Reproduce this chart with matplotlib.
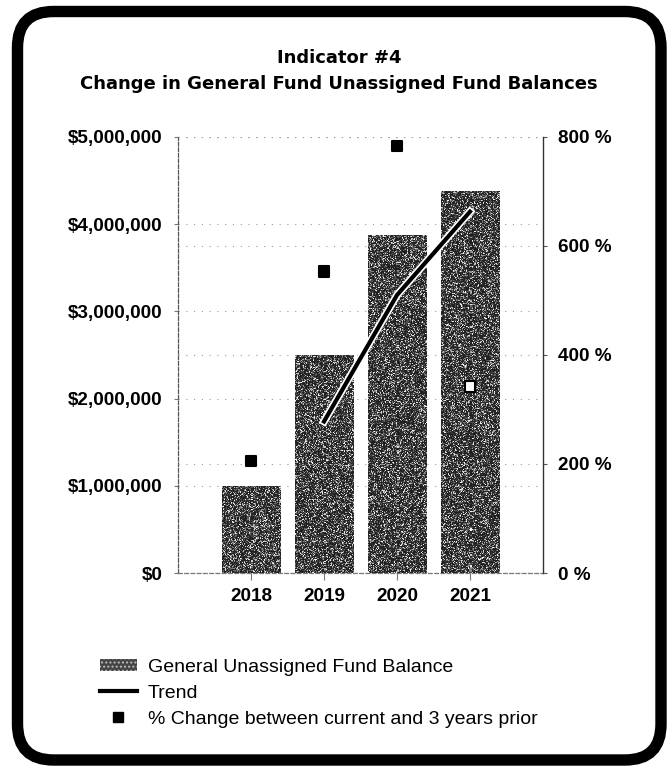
import numpy as np
import matplotlib
matplotlib.use("Agg")
import matplotlib.pyplot as plt
from matplotlib.patches import FancyBboxPatch, Patch
from matplotlib.lines import Line2D
from matplotlib.ticker import FuncFormatter, MultipleLocator
from matplotlib.font_manager import FontProperties
import matplotlib.patheffects as pe

years = ["2018", "2019", "2020", "2021"]
fund_balance = [1000000, 2500000, 3876000, 4384000]
trend_pct = [np.nan, 278, 510, 663]
pct_change = [206, 553, 783, 342]

W, H, DPI = 669, 772, 100
fig = plt.figure(figsize=(W / DPI, H / DPI), dpi=DPI)
fig.patch.set_facecolor("white")

# rounded frame
frame = FancyBboxPatch((0.175, 0.12), 6.61 - 0.175, 7.605 - 0.12,
                       boxstyle="round,pad=0,rounding_size=0.36",
                       transform=fig.dpi_scale_trans, facecolor="none",
                       edgecolor="black", linewidth=8.2, zorder=10)
fig.patches.append(frame)

L, R, T, B = 178, 543, 137, 573
ax = fig.add_axes([L / W, 1 - B / H, (R - L) / W, (B - T) / H])
ax2 = ax.twinx()

x = np.arange(len(years))
bars = ax.bar(x, fund_balance, width=0.8, color="#3c3c3c", zorder=2)

# noisy scanned-like texture for the bars
rng = np.random.default_rng(3)
noise = 0.12 + 0.88 * rng.random((B - T, R - L)) ** 3.5
ax.set_xlim(-1, 4)
ax.set_ylim(0, 5000000)
for b in bars:
    im = ax.imshow(noise, cmap="gray", vmin=0, vmax=1, interpolation="nearest",
                   extent=(-1, 4, 0, 5000000), aspect="auto", zorder=3)
    im.set_clip_path(b)
ax.set_xlim(-1, 4)
ax.set_ylim(0, 5000000)

ax2.set_ylim(0, 800)
ax2.plot(x, trend_pct, color="black", lw=3, zorder=5,
         path_effects=[pe.Stroke(linewidth=5.5, foreground="white"), pe.Normal()])
ax2.scatter(x, pct_change, marker="s", s=55,
            facecolors=["black", "black", "black", "white"],
            edgecolors="black", linewidths=1.5, zorder=6)

tick_fp = FontProperties(family="Liberation Sans", weight="bold", size=13.6)
xtick_fp = FontProperties(family="Liberation Sans", weight="bold", size=13.6)
ax.yaxis.set_major_locator(MultipleLocator(1000000))
ax.yaxis.set_major_formatter(FuncFormatter(lambda v, p: f"${v:,.0f}"))
ax2.yaxis.set_major_locator(MultipleLocator(200))
ax2.yaxis.set_major_formatter(FuncFormatter(lambda v, p: f"{v:.0f} %"))
ax.set_xticks(x)
ax.set_xticklabels(years)
for lab in ax.get_yticklabels() + ax2.get_yticklabels():
    lab.set_fontproperties(tick_fp)
for lab in ax.get_xticklabels():
    lab.set_fontproperties(xtick_fp)

ax.tick_params(axis="y", length=3, width=0.8, color="#777777", pad=8)
ax2.tick_params(axis="y", length=3, width=0.8, color="#555555", pad=8)
ax.tick_params(axis="x", length=5, width=0.8, color="#777777", pad=6)

for a in (ax, ax2):
    a.spines["top"].set_visible(False)
ax2.spines["left"].set_visible(False)
ax2.spines["bottom"].set_visible(False)
ax.spines["right"].set_visible(False)
ax.spines["left"].set_linestyle((0, (3, 1.5)))
ax.spines["left"].set_color("#555555")
ax.spines["left"].set_linewidth(0.9)
ax.spines["bottom"].set_linestyle((0, (3, 2)))
ax.spines["bottom"].set_color("#777777")
ax.spines["bottom"].set_linewidth(0.9)
ax2.spines["right"].set_linestyle((0, (4, 1)))
ax2.spines["right"].set_color("#333333")
ax2.spines["right"].set_linewidth(1.0)

ax.grid(axis="y", linestyle=(0, (1, 6)), color="#999999", lw=0.8, zorder=0)
ax2.grid(axis="y", linestyle=(0, (1, 6)), color="#999999", lw=0.8)
ax.set_axisbelow(True)

fig.text(339 / W, 1 - 58 / H, "Indicator #4", ha="center", va="center",
         family="DejaVu Sans", weight="bold", size=13)
fig.text(339 / W, 1 - 84 / H, "Change in General Fund Unassigned Fund Balances",
         ha="center", va="center", family="DejaVu Sans", weight="bold", size=13)

handles = [
    Patch(facecolor="#444444", edgecolor="#bbbbbb", hatch="....", linewidth=0),
    Line2D([], [], color="black", lw=3),
    Line2D([], [], color="black", marker="s", linestyle="none", markersize=7),
]
labels = ["General Unassigned Fund Balance", "Trend",
          "% Change between current and 3 years prior"]
fig.legend(handles, labels, loc="upper left", bbox_to_anchor=(100 / W, 1 - 659 / H),
           frameon=False, borderpad=0, borderaxespad=0, handlelength=1.9,
           handleheight=0.6, handletextpad=0.55, labelspacing=0.45,
           prop=dict(family="Liberation Sans", size=14))

fig.savefig("out.png", dpi=DPI)
